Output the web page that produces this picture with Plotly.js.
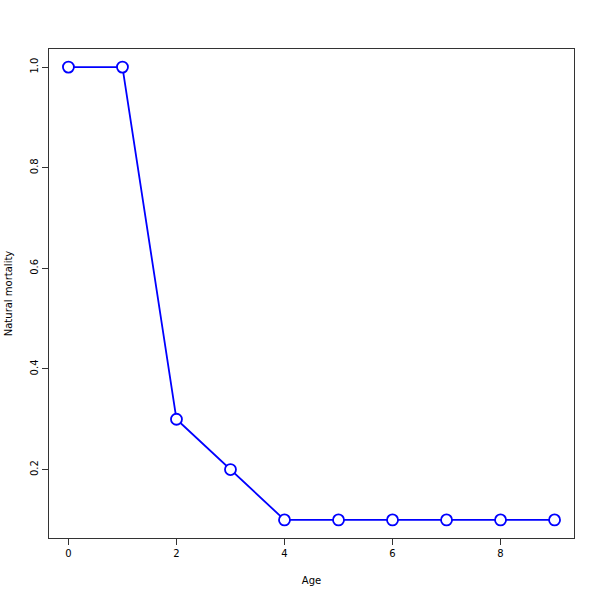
<!DOCTYPE html>
<html><head><meta charset="utf-8">
<script src="https://cdn.plot.ly/plotly-3.0.1.min.js"></script>
<style>html,body{margin:0;padding:0;background:#fff}#c{width:600px;height:600px}</style>
</head><body><div id="c"></div>
<script>
const ages = [0,1,2,3,4,5,6,7,8,9];
const mortality = [1.0,1.0,0.3,0.2,0.1,0.1,0.1,0.1,0.1,0.1];
const xTicks = [0,2,4,6,8];
const yTicks = [0.2,0.4,0.6,0.8,1.0];
const yTickLabels = ['0.2','0.4','0.6','0.8','1.0'];

const font = {family:'DejaVu Sans, sans-serif', size:10, color:'#000'};
Plotly.newPlot('c', [{
  x: ages, y: mortality, type:'scatter', mode:'lines+markers',
  line:{color:'#0000ff', width:1.8},
  marker:{symbol:'circle', size:11, color:'#ffffff', line:{color:'#0000ff', width:1.8}},
  hoverinfo:'skip'
}], {
  width:600, height:600,
  margin:{l:49, r:26, t:49, b:62, pad:0},
  paper_bgcolor:'#fff', plot_bgcolor:'#fff',
  showlegend:false,
  font: font,
  xaxis:{range:[-0.36,9.36], tickvals:xTicks, ticktext:xTicks.map(String),
    showgrid:false, zeroline:false, showline:true, mirror:true, linecolor:'#333', linewidth:1,
    ticks:'outside', ticklen:6, tickcolor:'#333', tickfont:font,
    title:{text:'Age', font:font, standoff:18}},
  yaxis:{range:[0.064,1.036], tickvals:yTicks, ticktext:yTickLabels, tickangle:-90,
    showgrid:false, zeroline:false, showline:true, mirror:true, linecolor:'#333', linewidth:1,
    ticks:'outside', ticklen:6, tickcolor:'#333', tickfont:font,
    title:{text:'Natural mortality', font:font, standoff:14}}
}, {staticPlot:true});
</script></body></html>
